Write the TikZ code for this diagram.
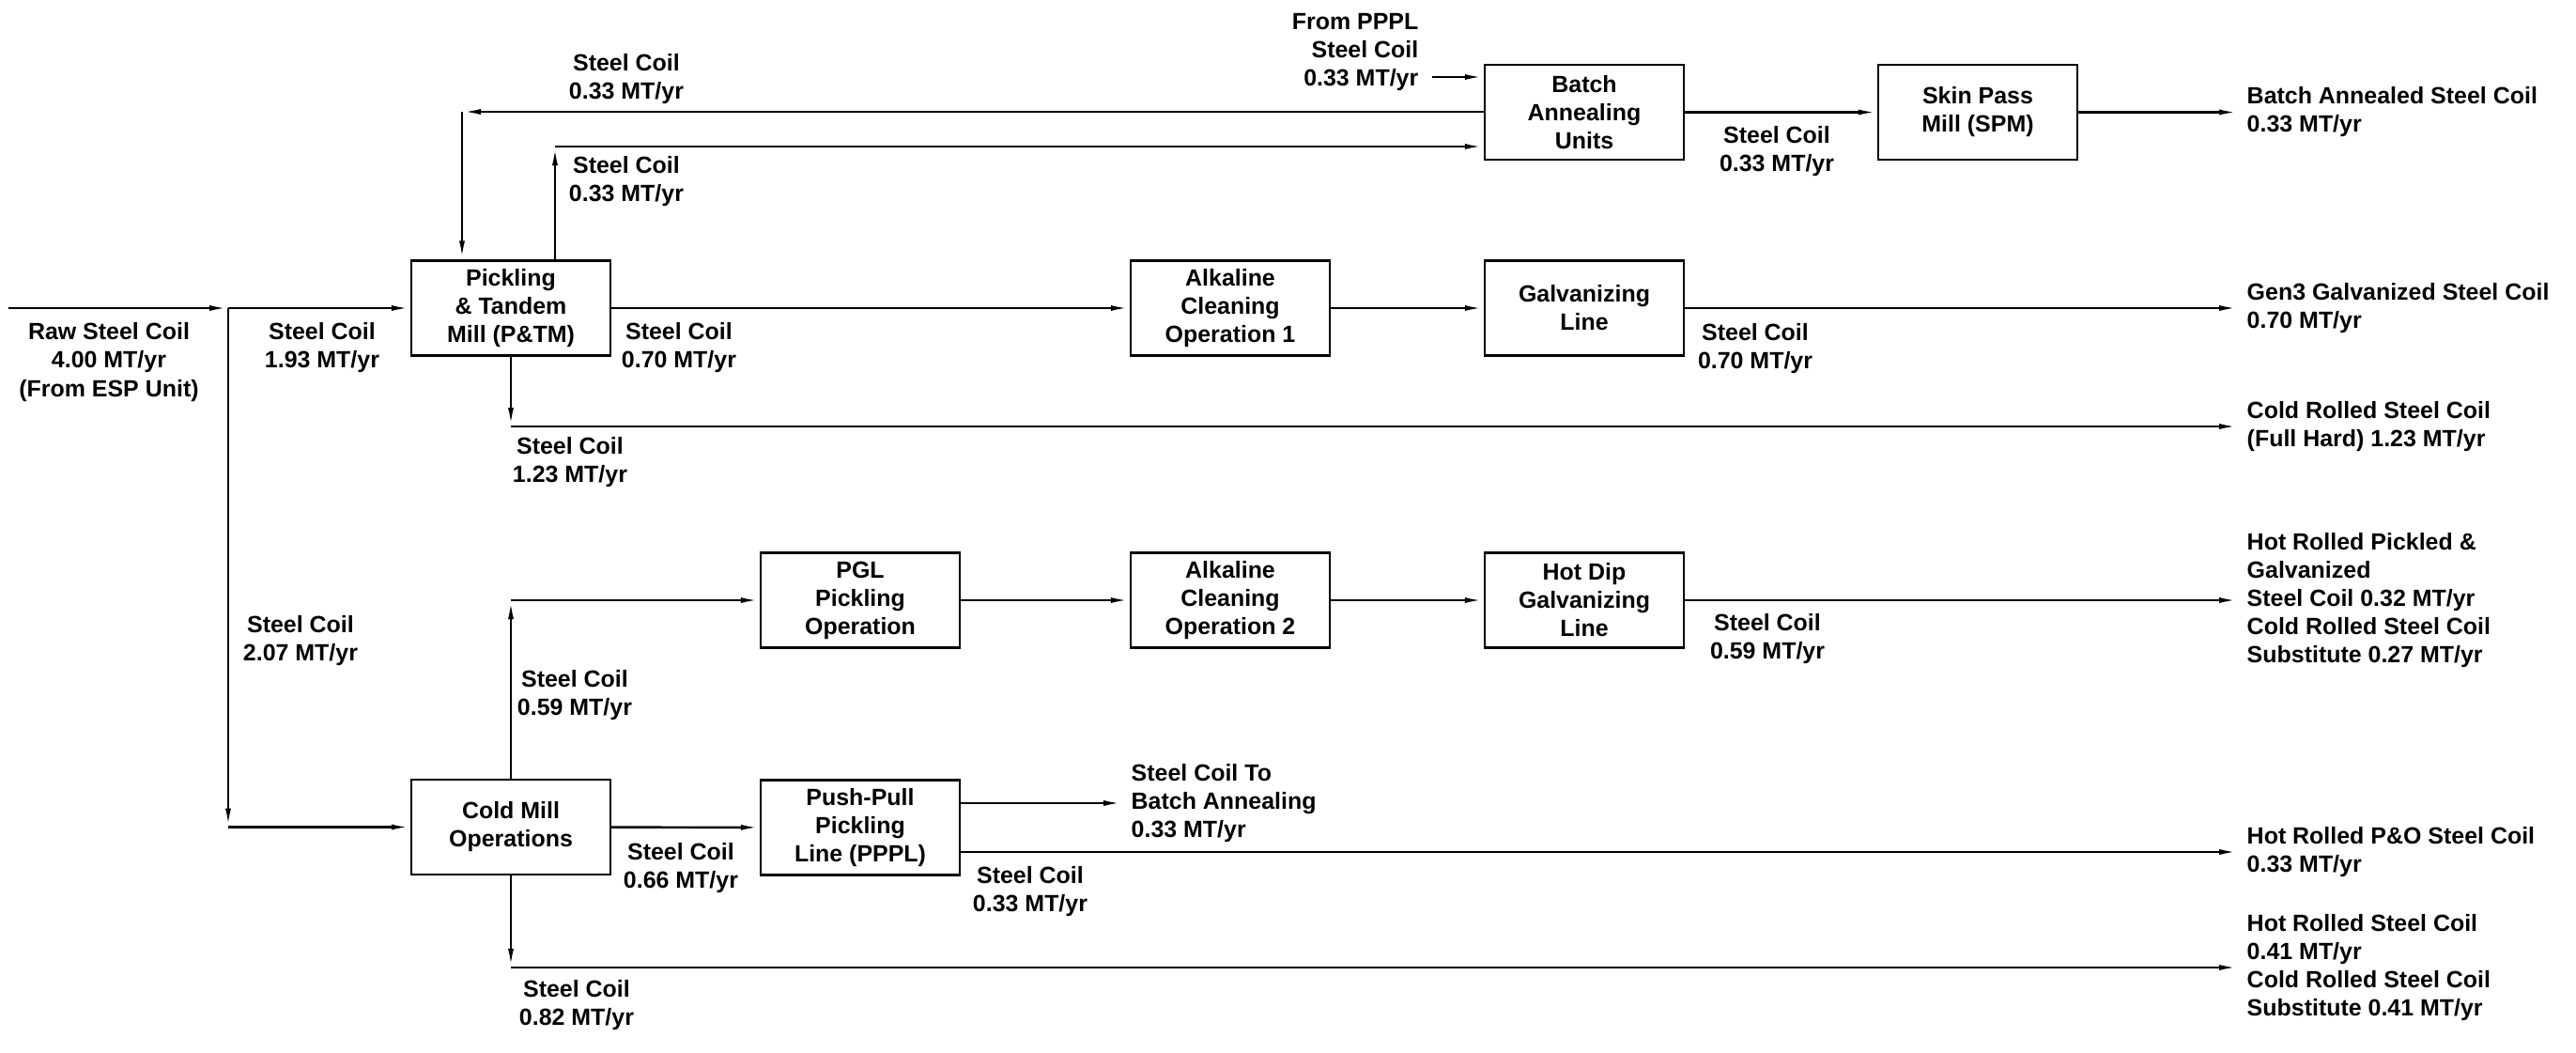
\documentclass[tikz,border=0pt]{standalone}
\usepackage{fontspec}
\setmainfont{Liberation Sans}
\usetikzlibrary{arrows.meta,positioning}

\begin{document}
\begin{tikzpicture}[
    x=1cm,y=-1cm,
    every node/.style={font={\bfseries\fontsize{7.1}{8.55}\selectfont}},
    unitbox/.style={draw,line width=0.7pt,minimum width=2.12cm,
        minimum height=1.01cm,align=center,inner sep=0pt},
    flow/.style={-{Latex[length=2mm,width=0.6mm]},line width=0.7pt},
    flowlabel/.style={align=center,inner sep=0pt},
    outlabel/.style={align=left,inner sep=0pt},
    ]
    \useasboundingbox (0,0) rectangle (27.43,11.20);

    % process units
    \node[unitbox] (ptm)  at (5.44,3.28)  {Pickling\\\& Tandem\\Mill (P\&TM)};
    \node[unitbox] (cmo)  at (5.44,8.805) {Cold Mill\\Operations};
    \node[unitbox] (pgl)  at (9.16,6.39)  {PGL\\Pickling\\Operation};
    \node[unitbox] (pppl) at (9.16,8.81)  {Push-Pull\\Pickling\\Line (PPPL)};
    \node[unitbox] (aco1) at (13.10,3.28) {Alkaline\\Cleaning\\Operation 1};
    \node[unitbox] (aco2) at (13.10,6.39) {Alkaline\\Cleaning\\Operation 2};
    \node[unitbox] (bau)  at (16.87,1.195) {Batch\\Annealing\\Units};
    \node[unitbox] (gl)   at (16.87,3.28) {Galvanizing\\Line};
    \node[unitbox] (hdgl) at (16.87,6.39) {Hot Dip\\Galvanizing\\Line};
    \node[unitbox] (spm)  at (21.06,1.195) {Skin Pass\\Mill (SPM)};

    % corners and free ends
    \coordinate (rawin)   at (0.09,3.28);
    \coordinate (split)   at (2.43,3.28);
    \coordinate (cmoin)   at (2.43,8.805);
    \coordinate (retL)    at (4.92,1.19);
    \coordinate (retR)    at (5.91,1.56);
    \coordinate (pppin)   at (15.25,0.82);
    \coordinate (fhturn)  at (5.44,4.54);
    \coordinate (pglturn) at (5.44,6.39);
    \coordinate (hrturn)  at (5.44,10.30);
    \coordinate (tobatch) at (11.95,8.55);
    \coordinate (oBA)  at (23.83,1.195);
    \coordinate (oGen) at (23.83,3.28);
    \coordinate (oFH)  at (23.83,4.54);
    \coordinate (oHDG) at (23.83,6.39);
    \coordinate (oPO)  at (23.83,9.07);
    \coordinate (oHR)  at (23.83,10.30);

    % raw coil split
    \draw[flow] (rawin) -- (split);
    \draw[flow] (split) -- (ptm);
    \draw[flow] (split) -- (cmoin);
    \draw[flow] (cmoin) -- (cmo);
    \node[flowlabel] (lraw) at (1.16,3.855) {Raw Steel Coil\\4.00 MT/yr\\(From ESP Unit)};
    \node[flowlabel] (l193) at (3.43,3.70) {Steel Coil\\1.93 MT/yr};
    \node[flowlabel] (l207) at (3.20,6.82) {Steel Coil\\2.07 MT/yr};

    % batch annealing loop
    \draw[flow] (bau.west |- retL) -- (retL);
    \draw[flow] (retL) -- (retL |- ptm.north);
    \draw[flow] (retR |- ptm.north) -- (retR);
    \draw[flow] (retR) -- (retR -| bau.west);
    \draw[flow] (pppin) -- (pppin -| bau.west);
    \draw[flow] (bau) -- (spm);
    \draw[flow] (spm) -- (oBA);
    \node[flowlabel] (lret1) at (6.67,0.84) {Steel Coil\\0.33 MT/yr};
    \node[flowlabel] (lret2) at (6.67,1.93) {Steel Coil\\0.33 MT/yr};
    \node[flowlabel,align=right,anchor=east] (lfrom) at (15.11,0.555) {From PPPL\\Steel Coil\\0.33 MT/yr};
    \node[flowlabel] (lspm) at (18.92,1.61) {Steel Coil\\0.33 MT/yr};
    \node[outlabel,right=0.9mm of oBA] (tBA) {Batch Annealed Steel Coil\\0.33 MT/yr};

    % galvanizing line
    \draw[flow] (ptm) -- (aco1);
    \draw[flow] (aco1) -- (gl);
    \draw[flow] (gl) -- (oGen);
    \node[flowlabel] (l070a) at (7.23,3.70) {Steel Coil\\0.70 MT/yr};
    \node[flowlabel] (l070b) at (18.69,3.71) {Steel Coil\\0.70 MT/yr};
    \node[outlabel,right=0.9mm of oGen] (tGen) {Gen3 Galvanized Steel Coil\\0.70 MT/yr};

    % full hard
    \draw[flow] (ptm) -- (fhturn);
    \draw[flow] (fhturn) -- (oFH);
    \node[flowlabel] (l123) at (6.07,4.92) {Steel Coil\\1.23 MT/yr};
    \node[outlabel,right=0.9mm of oFH] (tFH) {Cold Rolled Steel Coil\\(Full Hard) 1.23 MT/yr};

    % hot dip galvanizing
    \draw[flow] (cmo) -- (pglturn);
    \draw[flow] (pglturn) -- (pgl);
    \draw[flow] (pgl) -- (aco2);
    \draw[flow] (aco2) -- (hdgl);
    \draw[flow] (hdgl) -- (oHDG);
    \node[flowlabel] (l059a) at (6.12,7.40) {Steel Coil\\0.59 MT/yr};
    \node[flowlabel] (l059b) at (18.82,6.80) {Steel Coil\\0.59 MT/yr};
    \node[outlabel,right=0.9mm of oHDG] (tHDG) {Hot Rolled Pickled \&\\Galvanized\\Steel Coil 0.32 MT/yr\\Cold Rolled Steel Coil\\Substitute 0.27 MT/yr};

    % push-pull pickling
    \draw[flow] (cmo) -- (pppl);
    \draw[flow] (pppl.east |- tobatch) -- (tobatch);
    \draw[flow] (pppl.east |- oPO) -- (oPO);
    \node[flowlabel] (l066) at (7.25,9.24) {Steel Coil\\0.66 MT/yr};
    \node[outlabel,right=0.9mm of tobatch] (ltob) {Steel Coil To\\Batch Annealing\\0.33 MT/yr};
    \node[flowlabel] (l033) at (10.97,9.49) {Steel Coil\\0.33 MT/yr};
    \node[outlabel,right=0.9mm of oPO] (tPO) {Hot Rolled P\&O Steel Coil\\0.33 MT/yr};

    % hot rolled coil
    \draw[flow] (cmo) -- (hrturn);
    \draw[flow] (hrturn) -- (oHR);
    \node[flowlabel] (l082) at (6.14,10.70) {Steel Coil\\0.82 MT/yr};
    \node[outlabel,right=0.9mm of oHR] (tHR) {Hot Rolled Steel Coil\\0.41 MT/yr\\Cold Rolled Steel Coil\\Substitute 0.41 MT/yr};
\end{tikzpicture}
\end{document}
